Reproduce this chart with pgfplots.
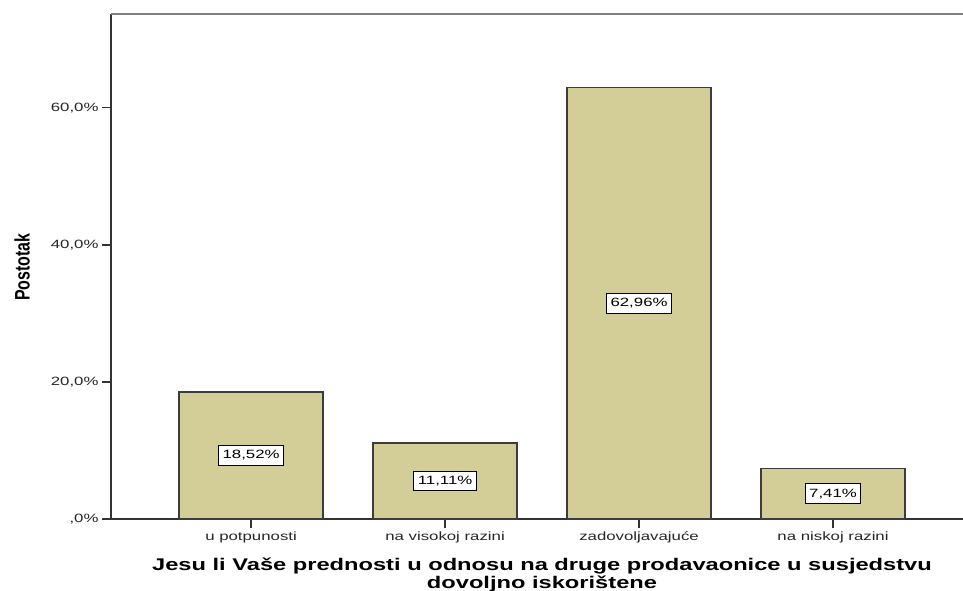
\documentclass[border=0pt]{standalone}
\usepackage{fontspec}
\setmainfont{Liberation Sans}
\newfontfamily\tickfont[FakeStretch=1.4]{Liberation Sans}
\newfontfamily\titlefont[FakeStretch=1.4]{Liberation Sans Bold}
\newfontfamily\narrowbold[FakeStretch=0.76]{Liberation Sans Bold}
\usepackage{pgfplots}
\pgfplotsset{compat=1.18}

\definecolor{barfill}{RGB}{211,206,152}
\definecolor{baredge}{RGB}{60,60,60}

\begin{document}
\begin{tikzpicture}
\path[use as bounding box] (0,0) rectangle (963pt,590pt);
\begin{axis}[
    at={(111pt,71pt)}, anchor=south west,
    width=852pt, height=505pt, scale only axis,
    xmin=0.278, xmax=4.67,
    ymin=0, ymax=73.7,
    axis x line*=bottom, axis y line*=left,
    axis line style={-, draw=black!80, line width=1.2pt},
    xtick={1,2,3,4},
    xticklabels={u potpunosti, na visokoj razini, zadovoljavajuće, na niskoj razini},
    ytick={0,20,40,60},
    yticklabels={{,0\%},{20,0\%},{40,0\%},{60,0\%}},
    tick align=outside,
    major tick length=9pt,
    tick style={draw=black!80, line width=1.2pt},
    ticklabel style={font=\tickfont\fontsize{12}{14}\selectfont, text=black!85},
    clip=false,
    ybar, bar width=0.742,
    nodes near coords={\pgfmathprintnumber[fixed,fixed zerofill,precision=2,use comma,assume math mode=true]{\pgfplotspointmeta}\%},
    visualization depends on={rawy/2 \as \halfy},
    every node near coord/.append style={anchor=center, draw=black, fill=white,
        inner xsep=4pt, inner ysep=5pt, line width=0.9pt,
        font=\tickfont\fontsize{12}{14}\selectfont, text=black,
        shift={(axis direction cs:0,-\halfy)}},
]
\addplot[fill=barfill, draw=baredge, line width=1.4pt] coordinates {(1,18.52) (2,11.11) (3,62.96) (4,7.41)};
\draw[draw=black!50, line width=1.6pt] (rel axis cs:0,1) -- (rel axis cs:1,1);
\end{axis}
\node[rotate=90, inner sep=0pt, font=\narrowbold\fontsize{21}{24}\selectfont] at (22pt,323pt) {Postotak};
\node[anchor=north, align=center, inner sep=0pt, font=\titlefont\fontsize{16.9}{15}\selectfont] at (542pt,32pt)
    {Jesu li Vaše prednosti u odnosu na druge prodavaonice u susjedstvu\\dovoljno iskorištene};
\end{tikzpicture}
\end{document}
